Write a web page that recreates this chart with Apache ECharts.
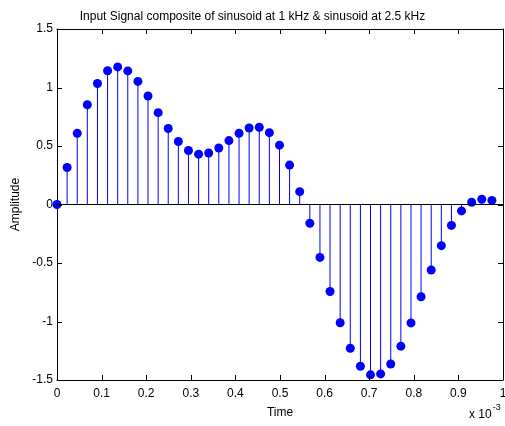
<!DOCTYPE html>
<html>
<head>
<meta charset="utf-8">
<script src="https://cdn.jsdelivr.net/npm/echarts@6/dist/echarts.min.js"></script>
<style>
  html, body { margin: 0; padding: 0; background: #fff; }
  #chart { width: 505px; height: 426px; }
</style>
</head>
<body>
<div id="chart"></div>
<script>
// sample times (x 10^-3 s) and amplitudes
const timeMs = [0, 0.0227, 0.0454, 0.0680, 0.0907, 0.1134, 0.1361, 0.1587, 0.1814, 0.2041,
  0.2268, 0.2494, 0.2721, 0.2948, 0.3175, 0.3401, 0.3628, 0.3855, 0.4082, 0.4308,
  0.4535, 0.4762, 0.4989, 0.5215, 0.5442, 0.5669, 0.5896, 0.6122, 0.6349, 0.6576,
  0.6803, 0.7029, 0.7256, 0.7483, 0.7710, 0.7937, 0.8163, 0.8390, 0.8617, 0.8844,
  0.9070, 0.9297, 0.9524, 0.9751]
const amplitude = [0, 0.316, 0.608, 0.853, 1.034, 1.143, 1.176, 1.142, 1.052, 0.927,
  0.785, 0.650, 0.538, 0.462, 0.430, 0.440, 0.483, 0.546, 0.609, 0.654,
  0.660, 0.614, 0.507, 0.337, 0.110, -0.160, -0.452, -0.744, -1.011, -1.229,
  -1.382, -1.456, -1.448, -1.363, -1.211, -1.012, -0.788, -0.560, -0.352, -0.179,
  -0.055, 0.019, 0.045, 0.035]
const xTicks = [0, 0.1, 0.2, 0.3, 0.4, 0.5, 0.6, 0.7, 0.8, 0.9, 1]
const yTicks = [-1.5, -1, -0.5, 0, 0.5, 1, 1.5]

const font = 'Liberation Sans, Arial, sans-serif'
const points = timeMs.map((t, i) => [t, amplitude[i]])
const xMin = xTicks[0], xMax = xTicks[xTicks.length - 1]
const yMin = yTicks[0], yMax = yTicks[yTicks.length - 1]
const tickLen = 5
const snap = v => Math.round(v) + 0.5

const chart = echarts.init(document.getElementById('chart'))
const tickLabel = v => String(v)

// one side of the MATLAB style box
function boxAxis(position, ticks, extra) {
  return Object.assign({
    type: 'value',
    position: position,
    min: ticks[0],
    max: ticks[ticks.length - 1],
    interval: ticks[1] - ticks[0],
    axisLine: { show: true, onZero: false, lineStyle: { color: '#000', width: 1 } },
    axisTick: { show: false },
    axisLabel: { show: false },
    splitLine: { show: false }
  }, extra || {})
}

// inward tick marks on both opposite sides, placed through the axis scales
function tickSeries(ticks, horizontal) {
  return {
    type: 'custom',
    silent: true,
    clip: false,
    data: ticks.map(v => horizontal ? [v, yMin] : [xMin, v]),
    z: 4,
    renderItem: (params, api) => {
      const vx = api.value(0)
      const vy = api.value(1)
      const a = horizontal ? api.coord([vx, yMin]) : api.coord([xMin, vy])
      const b = horizontal ? api.coord([vx, yMax]) : api.coord([xMax, vy])
      const lines = horizontal
        ? [[snap(a[0]), a[1], snap(a[0]), a[1] - tickLen], [snap(b[0]), b[1], snap(b[0]), b[1] + tickLen]]
        : [[a[0], snap(a[1]), a[0] + tickLen, snap(a[1])], [b[0], snap(b[1]), b[0] - tickLen, snap(b[1])]]
      return {
        type: 'group',
        children: lines.map(l => ({
          type: 'line',
          shape: { x1: l[0], y1: l[1], x2: l[2], y2: l[3] },
          style: { stroke: '#000', lineWidth: 1 }
        }))
      }
    }
  }
}

chart.setOption({
  animation: false,
  title: {
    text: 'Input Signal composite of sinusoid at 1 kHz & sinusoid at 2.5 kHz',
    left: 'center',
    top: 6,
    textStyle: { fontFamily: font, fontSize: 12, fontWeight: 'normal', color: '#000' }
  },
  grid: {
    left: 57, top: 29, right: 2, bottom: 46,
    outerBoundsMode: 'none', containLabel: false
  },
  xAxis: [
    boxAxis('bottom', xTicks, {
      name: 'Time', nameLocation: 'middle', nameGap: 27,
      nameTextStyle: { fontFamily: font, fontSize: 12, color: '#000' },
      axisLabel: { show: true, fontFamily: font, fontSize: 12, color: '#000', margin: 8, formatter: tickLabel }
    }),
    boxAxis('top', xTicks)
  ],
  yAxis: [
    boxAxis('left', yTicks, {
      name: 'Amplitude', nameLocation: 'middle', nameGap: 35,
      nameTextStyle: { fontFamily: font, fontSize: 12, color: '#000' },
      axisLabel: { show: true, fontFamily: font, fontSize: 12, color: '#000', margin: 4, formatter: tickLabel }
    }),
    boxAxis('right', yTicks)
  ],
  series: [
    tickSeries(xTicks, true),
    tickSeries(yTicks, false),
    {
      // stems
      type: 'custom',
      data: points,
      itemStyle: { color: '#0000ff' },
      renderItem: (params, api) => {
        const x = api.value(0)
        const top = api.coord([x, api.value(1)])
        const base = api.coord([x, 0])
        return {
          type: 'line',
          shape: { x1: top[0], y1: top[1], x2: base[0], y2: base[1] },
          style: { stroke: '#0000ff', lineWidth: 1, opacity: 1 }
        }
      },
      markLine: {
        silent: true,
        symbol: 'none',
        label: { show: false },
        lineStyle: { color: '#000', width: 1, type: 'solid', opacity: 1 },
        data: [{ yAxis: 0 }]
      },
      z: 2
    },
    {
      type: 'scatter',
      data: points,
      symbol: 'circle',
      symbolSize: 9,
      itemStyle: { color: '#0000ff', opacity: 1 },
      z: 3
    }
  ],
  graphic: [
    {
      type: 'text', left: 469, top: 403,
      style: {
        text: '{b|x 10}{s|-3}',
        rich: {
          b: { fontFamily: font, fontSize: 12, fill: '#000', padding: [6, 0, 0, 0] },
          s: { fontFamily: font, fontSize: 9, fill: '#000', verticalAlign: 'top', padding: [0, 0, 8, 1] }
        }
      }
    }
  ]
})
</script>
</body>
</html>
